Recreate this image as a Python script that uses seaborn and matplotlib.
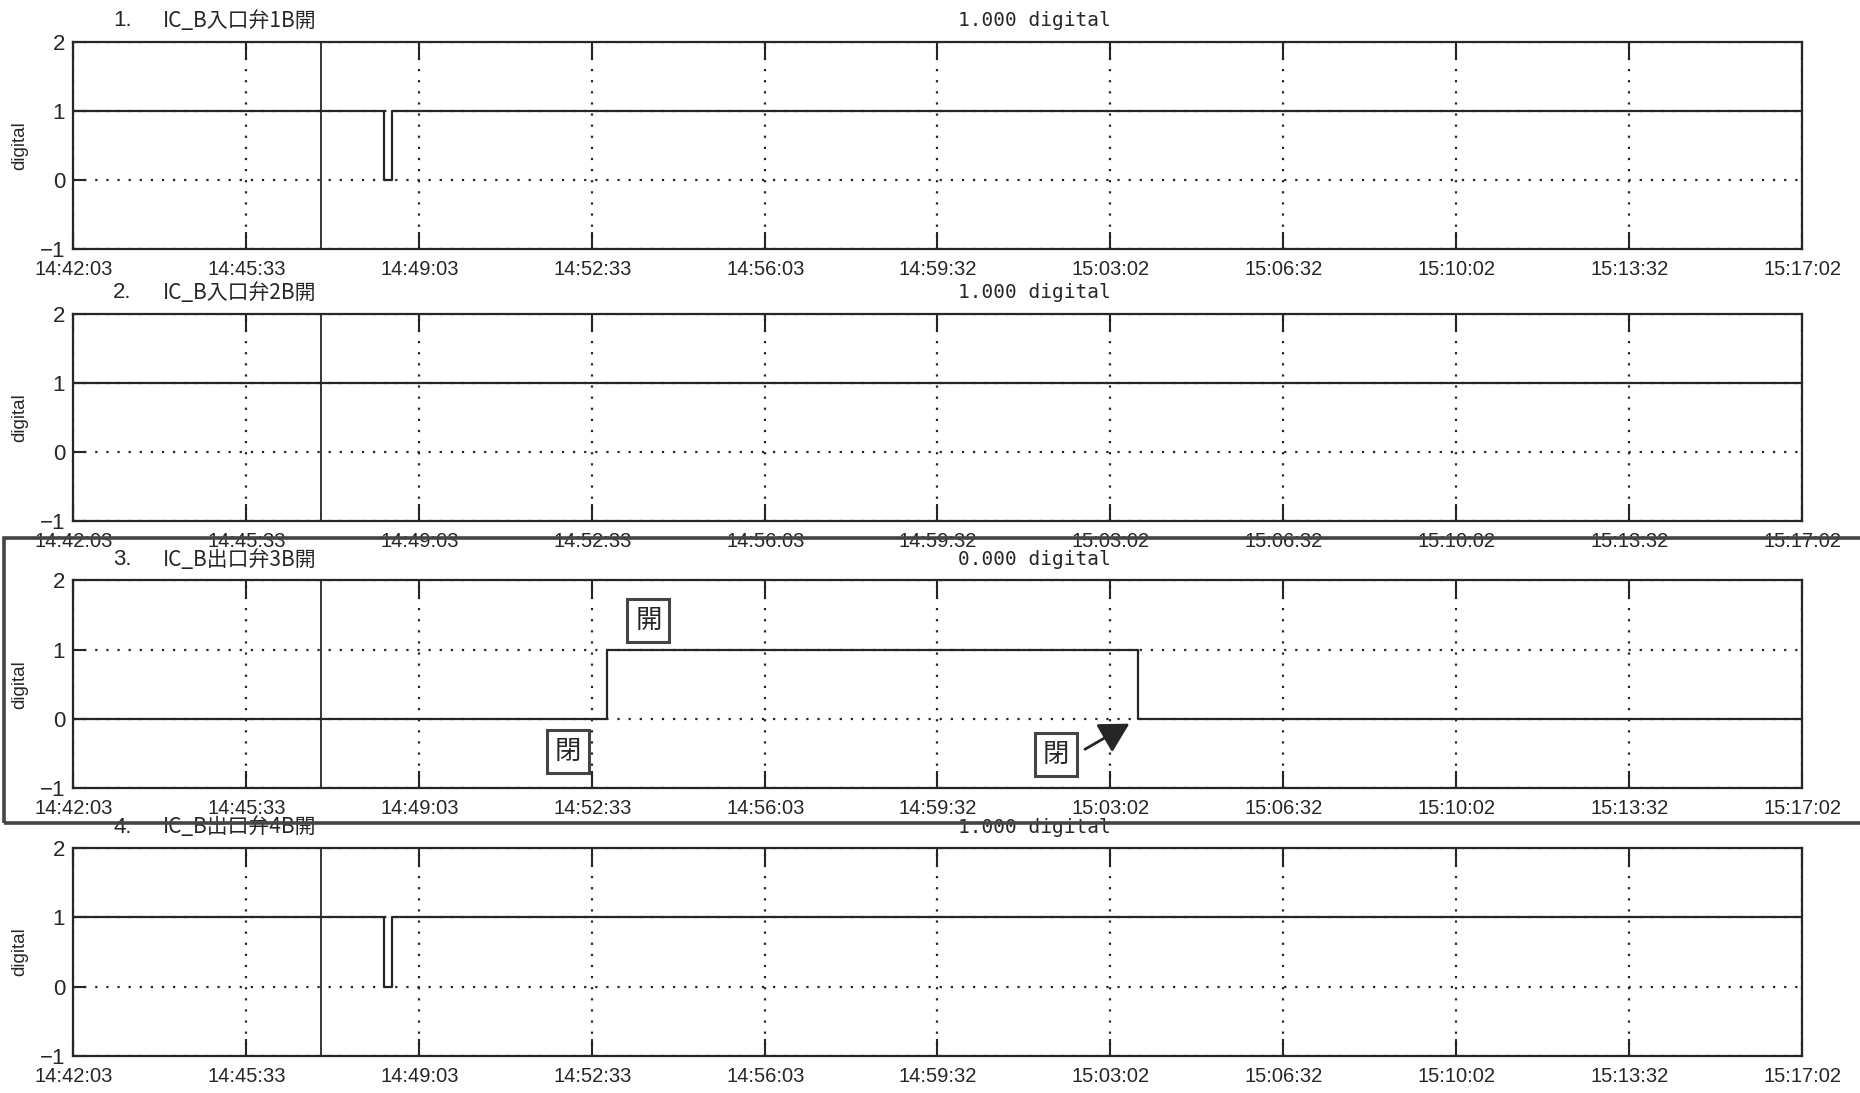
import numpy as np
import pandas as pd
import matplotlib
matplotlib.use("Agg")
import matplotlib.pyplot as plt
import matplotlib.patches as patches
import seaborn as sns

# 時刻軸（開始時刻からの秒数に変換して使う）
start_time = "14:42:03"
end_time = "15:17:02"
tick_labels = ["14:42:03", "14:45:33", "14:49:03", "14:52:33", "14:56:03", "14:59:32",
               "15:03:02", "15:06:32", "15:10:02", "15:13:32", "15:17:02"]
cursor_time = "14:47:03"

# 各チャンネル（階段状の状態変化）
ch_names = ["IC_B入口弁1B開", "IC_B入口弁2B開", "IC_B出口弁3B開", "IC_B出口弁4B開"]
ch_readout = ["1.000 digital", "1.000 digital", "0.000 digital", "1.000 digital"]

ch1_t = ["14:42:03", "14:48:20", "14:48:30", "15:17:02"]
ch1_v = [1, 0, 1, 1]
ch2_t = ["14:42:03", "15:17:02"]
ch2_v = [1, 1]
ch3_t = ["14:42:03", "14:52:51", "15:03:36", "15:17:02"]
ch3_v = [0, 1, 0, 0]
ch4_t = ["14:42:03", "14:48:20", "14:48:30", "15:17:02"]
ch4_v = [1, 0, 1, 1]

# 注記（チャンネル3）
note_text = ["開", "閉", "閉"]
note_t = ["14:53:41", "14:52:03", "15:01:56"]
note_v = [1.42, -0.47, -0.52]
arrow_t = "15:03:25"
arrow_v = -0.07


def to_sec(s):
    t0 = pd.Timestamp("2000-01-01 " + start_time)
    return (pd.to_datetime(["2000-01-01 " + x for x in np.atleast_1d(s)]) - t0).total_seconds().values


sns.set_style("ticks")
plt.rcParams["font.family"] = ["Liberation Sans", "Noto Sans CJK JP", "DejaVu Sans"]

fig = plt.figure(figsize=(18.6, 10.93), dpi=100)
fig.patch.set_facecolor("white")

bottoms = [0.772, 0.523, 0.279, 0.034]
series = [(ch1_t, ch1_v), (ch2_t, ch2_v), (ch3_t, ch3_v), (ch4_t, ch4_v)]
dark = "#262626"
dots = (0, (1, 4))

axes = []
for i, (ts, vs) in enumerate(series):
    ax = fig.add_axes([0.0395, bottoms[i], 0.9295, 0.19])
    df = pd.DataFrame({"t": to_sec(ts), "v": vs})
    sns.lineplot(data=df, x="t", y="v", drawstyle="steps-post", color=dark, lw=1.6, ax=ax)
    ax.axvline(to_sec(cursor_time)[0], color=dark, lw=1.3)

    ax.set_xlim(0, to_sec(end_time)[0])
    ax.set_ylim(-1, 2)
    ax.set_xticks(to_sec(tick_labels))
    ax.set_xticklabels(tick_labels)
    ax.set_yticks([-1, 0, 1, 2])
    ax.set_yticklabels(["\u22121", "0", "1", "2"])
    ax.grid(True, ls=dots, lw=1.6, color=dark)
    ax.tick_params(axis="x", direction="in", length=12, width=1.5, top=True, bottom=True,
                   labelsize=14.5, pad=8, colors=dark)
    ax.tick_params(axis="y", direction="in", length=9, width=1.5, left=True,
                   labelsize=16, pad=6, colors=dark)
    for sp in ax.spines.values():
        sp.set_linewidth(1.6)
        sp.set_color(dark)
    ax.set_xlabel("")
    ax.set_ylabel("digital", fontsize=13.5, color=dark, labelpad=8)

    ax.annotate(f"{i + 1}.", xy=(0.023, 1), xycoords="axes fraction", xytext=(0, 15),
                textcoords="offset points", ha="left", va="center", fontsize=16, color=dark)
    ax.annotate(ch_names[i], xy=(0.052, 1), xycoords="axes fraction", xytext=(0, 15),
                textcoords="offset points", ha="left", va="center", fontsize=15, color=dark,
                family=["Noto Sans CJK JP"])
    ax.annotate(ch_readout[i], xy=(0.556, 1), xycoords="axes fraction", xytext=(0, 15),
                textcoords="offset points", ha="center", va="center", fontsize=14, color=dark,
                family=["DejaVu Sans Mono"])
    axes.append(ax)

# チャンネル3の注記
ax3 = axes[2]
box = dict(boxstyle="square,pad=0.3", fc="white", ec="#444444", lw=2.2)
for txt, t, v in zip(note_text, note_t, note_v):
    ax3.text(to_sec(t)[0], v, txt, ha="center", va="center", fontsize=19, color=dark,
             family=["Noto Sans CJK JP"], bbox=box, zorder=5)
ax3.annotate("", xy=(to_sec(arrow_t)[0], arrow_v), xytext=(to_sec(note_t[2])[0] + 35, note_v[2] + 0.08),
             arrowprops=dict(arrowstyle="-|>,head_length=0.9,head_width=0.5", color=dark, lw=2,
                             mutation_scale=20, shrinkA=0, shrinkB=0), zorder=6)

# チャンネル3を囲む枠
fig.add_artist(patches.Rectangle((0.002, 0.247), 1.0, 0.261, transform=fig.transFigure,
                                 fill=False, lw=2.6, ec="#444444"))

fig.savefig("out.png", dpi=100, facecolor="white")
